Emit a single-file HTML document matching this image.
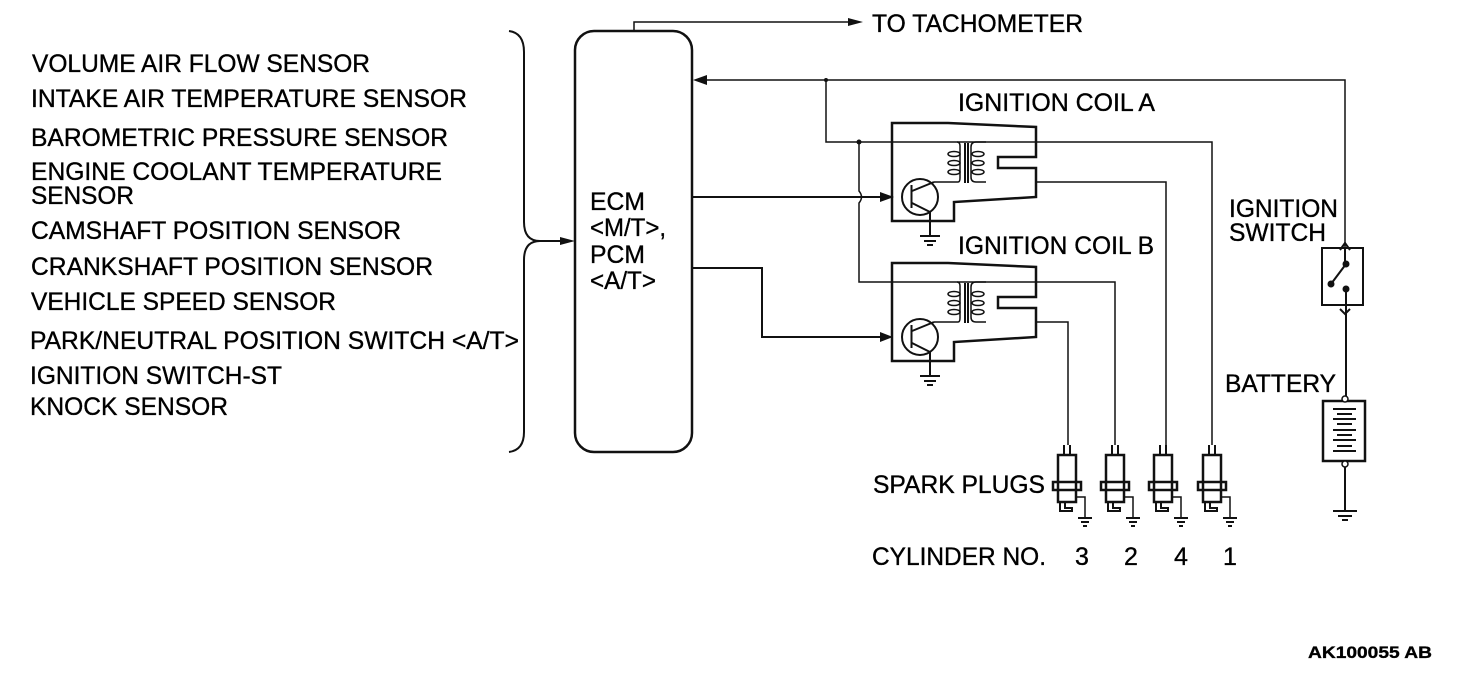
<!DOCTYPE html>
<html>
<head>
<meta charset="utf-8">
<style>
html,body{margin:0;padding:0;background:#fff;width:1472px;height:676px;overflow:hidden}
svg{display:block}
text{font-family:"Liberation Sans",sans-serif;font-size:25px;fill:#000;stroke:#000;stroke-width:.35}
.w{fill:none;stroke:#111;stroke-width:1.5}
.t{fill:none;stroke:#111;stroke-width:2.5}
.m{fill:none;stroke:#111;stroke-width:2}
</style>
</head>
<body>
<svg width="1472" height="676" viewBox="0 0 1472 676" xmlns="http://www.w3.org/2000/svg">
<defs>
<g id="gnd" class="m">
<path d="M-10 0H10" class="m"/><path d="M-6 5H6" class="m"/><path d="M-3 9H3" class="m"/>
</g>
<g id="coil">
<path class="t" stroke-linejoin="miter" d="M892 123H948L1036 127V157H998V168H1036V197L954 202V221H892Z"/>
<circle class="m" cx="920" cy="197" r="18"/>
<path class="m" d="M911.500 185V208"/>
<path class="m" d="M912 191L934 182"/>
<path class="m" d="M912 203L930 212"/>
<path class="m" d="M930 212V236"/>
<use href="#gnd" x="930" y="236"/>
<path class="w" d="M934 182H958Q960 182 960 178V146Q960 142 957 142"/>
<path class="m" d="M965 143V183M968 143V183"/>
<path class="w" d="M986 142H976Q971 142 971 147V177Q971 182 976 182H986"/>
<g class="w">
<ellipse cx="954" cy="154" rx="6" ry="2.500"/><ellipse cx="954" cy="163" rx="6" ry="2.500"/><ellipse cx="954" cy="172" rx="6" ry="2.500"/>
<ellipse cx="978" cy="154" rx="6" ry="2.500"/><ellipse cx="978" cy="163" rx="6" ry="2.500"/><ellipse cx="978" cy="172" rx="6" ry="2.500"/>
</g>
</g>
<g id="plug">
<path class="m" d="M-3 445V455H3V445"/>
<rect class="t" x="-9" y="455" width="18" height="47"/>
<rect class="t" x="-14" y="482" width="28" height="8"/>
<path class="m" d="M-7 502V511H5V508H-2V502"/>
<path class="w" d="M9 497H18V518"/>
<g transform="translate(18 518)" class="m"><path class="m" d="M-7 0H7"/><path class="m" d="M-4 4H4"/><path class="m" d="M-2 8H2"/></g>
</g>
</defs>

<g>
<text x="32" y="72" textLength="338" lengthAdjust="spacingAndGlyphs">VOLUME AIR FLOW SENSOR</text>
<text x="31" y="107" textLength="436" lengthAdjust="spacingAndGlyphs">INTAKE AIR TEMPERATURE SENSOR</text>
<text x="31" y="146" textLength="417" lengthAdjust="spacingAndGlyphs">BAROMETRIC PRESSURE SENSOR</text>
<text x="31" y="180" textLength="411" lengthAdjust="spacingAndGlyphs">ENGINE COOLANT TEMPERATURE</text>
<text x="31" y="204" textLength="103" lengthAdjust="spacingAndGlyphs">SENSOR</text>
<text x="31" y="239" textLength="370" lengthAdjust="spacingAndGlyphs">CAMSHAFT POSITION SENSOR</text>
<text x="31" y="275" textLength="402" lengthAdjust="spacingAndGlyphs">CRANKSHAFT POSITION SENSOR</text>
<text x="31" y="310" textLength="305" lengthAdjust="spacingAndGlyphs">VEHICLE SPEED SENSOR</text>
<text x="30" y="349" textLength="489" lengthAdjust="spacingAndGlyphs">PARK/NEUTRAL POSITION SWITCH &lt;A/T&gt;</text>
<text x="30" y="384" textLength="252" lengthAdjust="spacingAndGlyphs">IGNITION SWITCH-ST</text>
<text x="30" y="415" textLength="198" lengthAdjust="spacingAndGlyphs">KNOCK SENSOR</text>

<text x="590" y="210" textLength="55" lengthAdjust="spacingAndGlyphs">ECM</text>
<text x="590" y="236" textLength="76" lengthAdjust="spacingAndGlyphs">&lt;M/T&gt;,</text>
<text x="590" y="263" textLength="55" lengthAdjust="spacingAndGlyphs">PCM</text>
<text x="590" y="289" textLength="66" lengthAdjust="spacingAndGlyphs">&lt;A/T&gt;</text>

<text x="872" y="32" textLength="211" lengthAdjust="spacingAndGlyphs">TO TACHOMETER</text>
<text x="958" y="111" textLength="197" lengthAdjust="spacingAndGlyphs">IGNITION COIL A</text>
<text x="958" y="254" textLength="196" lengthAdjust="spacingAndGlyphs">IGNITION COIL B</text>
<text x="1229" y="217" textLength="109" lengthAdjust="spacingAndGlyphs">IGNITION</text>
<text x="1229" y="241" textLength="97" lengthAdjust="spacingAndGlyphs">SWITCH</text>
<text x="1225" y="392" textLength="111" lengthAdjust="spacingAndGlyphs">BATTERY</text>
<text x="873" y="493" textLength="172" lengthAdjust="spacingAndGlyphs">SPARK PLUGS</text>
<text x="872" y="565" textLength="174" lengthAdjust="spacingAndGlyphs">CYLINDER NO.</text>
<text x="1075" y="565">3</text>
<text x="1124" y="565">2</text>
<text x="1174" y="565">4</text>
<text x="1223" y="565">1</text>
<text x="1308" y="658" textLength="124" lengthAdjust="spacingAndGlyphs" style="font-size:17px;font-weight:bold">AK100055 AB</text>
</g>

<!-- brace -->
<path class="m" d="M509 31Q524 33 524 52V222Q524 241 540 241H562"/>
<path class="m" d="M509 452Q524 450 524 432V260Q524 241 540 241"/>
<path d="M575 241L560 237V245Z" fill="#111"/>

<!-- ECM -->
<rect class="t" x="575" y="31" width="117" height="421" rx="19" ry="19"/>

<!-- tachometer -->
<path class="w" d="M634 31V22H850"/>
<path d="M863 22L848 18V26Z" fill="#111"/>

<!-- top feed -->
<path class="w" d="M705 80H1345V248"/>
<path d="M693 80L707 75V85Z" fill="#111"/>
<circle cx="826" cy="80" r="2" fill="#111"/>
<path class="w" d="M826 80V142H1212V445"/>
<circle cx="859" cy="142" r="2.500" fill="#111"/>
<path class="w" d="M859 142V191Q864 197 859 203V282H1115V445"/>

<!-- ECM outputs -->
<path class="w" style="stroke-width:2" d="M692 197H882"/>
<path d="M894 197L880 192V202Z" fill="#111"/>
<path class="w" style="stroke-width:2" d="M692 268H762V337H882"/>
<path d="M893 337L880 332V342Z" fill="#111"/>

<!-- coils -->
<use href="#coil"/>
<use href="#coil" y="140"/>

<!-- secondary wires -->
<path class="w" d="M1036 182H1166V445"/>
<path class="w" d="M1036 322H1068V445"/>

<!-- plugs -->
<use href="#plug" x="1067"/>
<use href="#plug" x="1115"/>
<use href="#plug" x="1163"/>
<use href="#plug" x="1212"/>

<!-- switch -->
<rect class="m" x="1322" y="248" width="41" height="57"/>
<path class="m" d="M1345 248V264M1346 289V401"/>
<path class="m" d="M1340 250L1345 243L1350 250M1340 309L1345 314L1350 309"/>
<circle cx="1346" cy="264" r="3.500" fill="#111"/>
<circle cx="1331" cy="284" r="3.500" fill="#111"/>
<circle cx="1346" cy="289" r="3.500" fill="#111"/>
<path class="m" d="M1331 284L1346 264"/>

<!-- battery -->
<rect class="t" x="1323" y="401" width="42" height="60"/>
<path class="m" d="M1333 409H1356M1337 414H1352M1333 419H1356M1337 424H1352M1333 430H1356M1337 435H1352M1333 440H1356M1337 446H1352M1333 451H1356"/>
<circle cx="1345" cy="399" r="3" fill="#fff" stroke="#111" stroke-width="1.500"/>
<circle cx="1345" cy="464" r="3" fill="#fff" stroke="#111" stroke-width="1.500"/>
<path class="m" d="M1345 467V511"/>
<path class="m" d="M1333 511H1357M1338 516H1352M1342 520H1348"/>
</svg>
</body>
</html>
